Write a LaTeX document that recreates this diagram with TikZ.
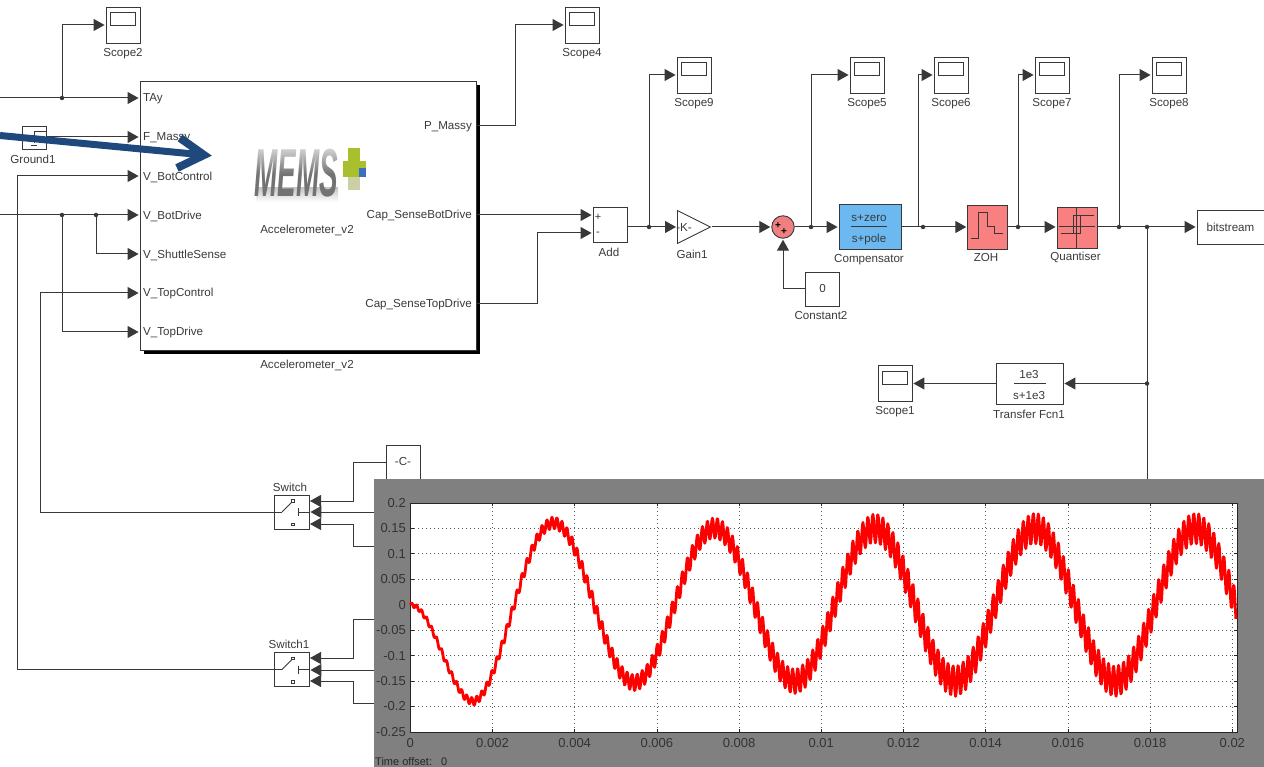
\documentclass[tikz,border=0pt]{standalone}
\usepackage{fontspec}
\setmainfont{Liberation Sans}
\usepackage{tikz}
\usetikzlibrary{calc,shapes.geometric,arrows.meta,shadows,fadings}
\definecolor{wirecol}{HTML}{383838}
\definecolor{textcol}{HTML}{3A3A3A}
\definecolor{panelcol}{HTML}{808080}
\definecolor{redblock}{HTML}{F88080}
\definecolor{blueblock}{HTML}{6CB9F2}
\definecolor{sumcol}{HTML}{F07F7F}
\definecolor{slidearrow}{HTML}{1F497D}
\definecolor{plusgreen}{HTML}{A9BF2E}
\definecolor{pluspale}{HTML}{CBCFA4}
\definecolor{plusblue}{HTML}{3A6FC4}
\tikzset{
  base/.style={font=\fontsize{11.6}{13}\selectfont,text=textcol,inner sep=0pt},
  txt/.style={base,yshift=-1pt},
  caption/.style={txt},
  blockbox/.style={base,draw=wirecol,line width=.9pt,fill=white,rectangle},
  scopebox/.style={blockbox,minimum width=34pt,minimum height=36pt},
  screen/.style={blockbox,minimum width=25pt,minimum height=13pt},
  portleft/.style={txt,anchor=west},
  portright/.style={txt,anchor=east},
  wire/.style={draw=wirecol,line width=1pt},
  arrowwire/.style={wire,-{Triangle[length=11pt,width=12pt]},shorten >=1pt},
  junction/.style={circle,fill=wirecol,inner sep=0pt,minimum size=4.5pt},
  ticklabel/.style={font=\fontsize{13}{15}\selectfont,text=black!80,inner sep=0pt},
  griddots/.style={black!65,line width=.8pt,dash pattern=on 1pt off 3pt},
  tickmark/.style={black!85,line width=.8pt},
}
\begin{document}
\begin{tikzpicture}[x=1pt,y=-1pt,
    declare function={
      sig(\t)=(\t<1.55)?(-0.19*sin(90*\t/1.55)^2):(-(0.15+0.04*exp(-(\t-1.55)/1.5))*cos(360*(\t-1.55)/3.9));
      rip(\t)=(0.004+0.026*min(\t/12,1))*sin(360*frac(\t/0.122));
    }]
    \useasboundingbox (0,0) rectangle (1264,767);
    % scopes
    \foreach \n/\x/\y in {2/123/25, 4/582/25, 9/694/75, 5/867/75, 6/951/75, 7/1052/75, 8/1169/75, 1/895/383.5}
    {
        \node[scopebox] (scope\n) at (\x,\y) {};
        \node[screen] (screen\n) at ($(scope\n.center)+(0,-6)$) {};
        \node[caption] (scopelabel\n) at ($(scope\n.south)+(0,9)$) {Scope\n};
    }
    % accelerometer block
    \node[blockbox,minimum width=336pt,minimum height=269pt,
        general shadow={fill=black,shadow xshift=4pt,shadow yshift=-4pt}] (accel) at (308,215.5) {};
    \foreach \name/\txt/\y in {tay/TAy/98, fmassy/F\_Massy/137, botcontrol/V\_BotControl/176, botdrive/V\_BotDrive/215,
        shuttle/V\_ShuttleSense/254, topcontrol/V\_TopControl/293, topdrive/V\_TopDrive/332}
        \node[portleft] (\name) at (143,\y) {\txt};
    \foreach \name/\txt/\y in {pmassy/P\_Massy/126, capbot/Cap\_SenseBotDrive/215, captop/Cap\_SenseTopDrive/304}
        \node[portright] (\name) at (472,\y) {\txt};
    \node[caption] (accelinner) at (307,229) {Accelerometer\_v2};
    \node[caption] (acceltitle) at (307,364) {Accelerometer\_v2};
    % logo
    \shade[top color=black!22,bottom color=white] (256,188) rectangle (338,202);
    \node[font=\fontsize{68}{68}\selectfont\bfseries\itshape,text=black!55,inner sep=0pt,xscale=.41,transform shape] (logo) at (296,173) {MEMS};
    \fill[white,opacity=.75,path fading=south] (252,146) rectangle (342,174);
    \fill[plusgreen] (348,148) rectangle (360,177);
    \fill[pluspale] (348,177) rectangle (360,190);
    \fill[plusgreen] (343,161) rectangle (366,177);
    \fill[plusblue] (359,168) rectangle (366,177);
    % left side
    \node[blockbox,minimum width=24pt,minimum height=23pt] (ground) at (34,137.5) {};
    \node[caption] (groundlabel) at (33,158) {Ground1};
    \draw[wire] (46,132) -| (34,143);
    \draw[wire] (31,146) -- (37,146);
    \coordinate (tayin) at (0,98);
    \coordinate (drivein) at (0,215);
    \node[junction] (jscope) at (62,98) {};
    \node[junction] (jdrive) at (62,215) {};
    \node[junction] (jshuttle) at (96,215) {};
    \draw[wire] (tayin) -- (jscope.center);
    \draw[arrowwire] (jscope.center) -- (accel.west |- 0,98);
    \draw[arrowwire] (jscope.center) |- (scope2.west);
    \draw[arrowwire] (ground.east |- 0,137) -- (accel.west |- 0,137);
    \draw[wire] (drivein) -- (jdrive.center);
    \draw[wire] (jdrive.center) -- (jshuttle.center);
    \draw[arrowwire] (jshuttle.center) -- (accel.west |- 0,215);
    \draw[arrowwire] (jshuttle.center) |- (accel.west |- 0,254);
    \draw[arrowwire] (jdrive.center) |- (accel.west |- 0,332);
    % switches
    \node[blockbox,minimum width=35pt,minimum height=34pt] (switcha) at (291.5,512) {};
    \node[caption] (switchalabel) at (290,486) {Switch};
    \node[blockbox,minimum width=35pt,minimum height=34pt] (switchb) at (291.5,669.5) {};
    \node[caption] (switchblabel) at (289,643) {Switch1};
    \node[blockbox,minimum width=34pt,minimum height=34pt] (cblock) at (403,462) {-C-};
    \foreach \s in {switcha,switchb}
    {
        \draw[wire] ($(\s.center)+(-9.5,0)$) -- ($(\s.center)+(1.5,-11)$);
        \draw[wire] ($(\s.center)+(-17.5,0)$) -- ($(\s.center)+(-9.5,0)$);
        \draw[wire,fill=white] ($(\s.center)+(.3,-12.5)$) rectangle ($(\s.center)+(2.7,-10)$);
        \draw[wire,fill=white] ($(\s.center)+(.3,11)$) rectangle ($(\s.center)+(2.7,13.5)$);
        \draw[wire] ($(\s.center)+(6.5,-4)$) -- ($(\s.center)+(6.5,4)$);
        \draw[wire] ($(\s.center)+(6.5,0)$) -- ($(\s.center)+(17.5,0)$);
    }
    \coordinate (aone) at (374,512);
    \coordinate (atwo) at (374,546);
    \coordinate (bone) at (374,619);
    \coordinate (btwo) at (374,670);
    \coordinate (bthree) at (374,703);
    \draw[arrowwire] (cblock.west) -| (353,501) -- (309,501);
    \draw[arrowwire] (aone) -- (switcha.east |- aone);
    \draw[arrowwire] (atwo) -| (353,524) -- (309,524);
    \draw[arrowwire] (bone) -| (353,658) -- (309,658);
    \draw[arrowwire] (btwo) -- (switchb.east |- btwo);
    \draw[arrowwire] (bthree) -| (353,681) -- (309,681);
    \draw[arrowwire] (switcha.west) -| (40,293) -- (accel.west |- 0,293);
    \draw[arrowwire] (switchb.west) -| (17,176) -- (accel.west |- 0,176);
    % forward path
    \node[blockbox,minimum width=34pt,minimum height=35pt] (add) at (610,224.5) {};
    \node[txt,font=\fontsize{11}{12}\selectfont] (addplus) at (598,216) {+};
    \node[txt,font=\fontsize{11}{12}\selectfont] (addminus) at (598,233) {-};
    \node[caption] (addlabel) at (609,251) {Add};
    \node[isosceles triangle,isosceles triangle stretches,draw=wirecol,line width=.9pt,fill=white,inner sep=0pt,
        minimum width=33pt,minimum height=33pt,anchor=west] (gain) at (677,227) {};
    \node[txt] (gaintext) at (684,227) {-K-};
    \node[caption] (gainlabel) at (692,253) {Gain1};
    \node[circle,draw=wirecol,line width=.9pt,fill=sumcol,minimum size=22.5pt,inner sep=0pt] (sum) at (783,227) {};
    \node[base,font=\fontsize{10}{11}\selectfont\bfseries,text=black] (sumplusa) at (778,226) {+};
    \node[base,font=\fontsize{10}{11}\selectfont\bfseries,text=black] (sumplusb) at (784,232) {+};
    \node[blockbox,minimum width=34pt,minimum height=34pt] (constant) at (822.5,289) {0};
    \node[caption] (constantlabel) at (821,315) {Constant2};
    \node[blockbox,fill=blueblock,minimum width=62pt,minimum height=45pt] (comp) at (870,226.5) {};
    \node[txt] (compnum) at (869,217.5) {s+zero};
    \node[txt] (compden) at (869,238.5) {s+pole};
    \draw[wire] (851,227) -- (887,227);
    \node[caption] (complabel) at (869,259) {Compensator};
    \node[blockbox,fill=redblock,minimum width=39.5pt,minimum height=44pt] (zoh) at (987.5,227) {};
    \draw[wire] (970.5,239) -- (978,239) -- (978,213) -- (987,213) -- (987,227) -- (994.5,227) -- (994.5,234) -- (1003,234);
    \node[caption] (zohlabel) at (986,257) {ZOH};
    \node[blockbox,fill=redblock,minimum width=40pt,minimum height=41pt] (quant) at (1077,227.5) {};
    \draw[wire] (1059,227) -- (1095,227);
    \draw[wire] (1076.5,207) -- (1076.5,248);
    \draw[wire] (1094,216) -- (1073,216) -- (1073,233.5) -- (1061,233.5);
    \draw[wire] (1094,216) -- (1080,216) -- (1080,233.5) -- (1061,233.5);
    \node[caption] (quantlabel) at (1075.5,256) {Quantiser};
    \node[blockbox,minimum width=67pt,minimum height=34pt] (bitstream) at (1230.5,227) {bitstream};
    \node[blockbox,minimum width=67pt,minimum height=41pt] (tf) at (1029.5,383.5) {};
    \node[txt] (tfnum) at (1029,374) {1e3};
    \node[txt] (tfden) at (1029,395) {s+1e3};
    \draw[wire] (1014,383.5) -- (1045.5,383.5);
    \node[caption] (tflabel) at (1029,413) {Transfer Fcn1};
    \node[junction] (jgain) at (649,227) {};
    \node[junction] (jsum) at (811,227) {};
    \node[junction] (jcomp) at (923,227) {};
    \node[junction] (jzoh) at (1018,227) {};
    \node[junction] (jquant) at (1119,227) {};
    \node[junction] (jout) at (1147,227) {};
    \node[junction] (jtf) at (1147,383.5) {};
    \coordinate (jbranch) at (918,227);
    \coordinate (feedback) at (1147,480);
    \draw[arrowwire] (accel.east |- 0,126) -| (515,25) -- (scope4.west);
    \draw[arrowwire] (accel.east |- 0,215) -- (add.west |- 0,215);
    \draw[arrowwire] (accel.east |- 0,304) -| (537,233) -- (add.west |- 0,233);
    \draw[wire] (add.east |- jgain) -- (jgain.center);
    \draw[arrowwire] (jgain.center) -- (gain.west);
    \draw[arrowwire] (jgain.center) |- (scope9.west);
    \draw[arrowwire] (gain.east) -- (sum.west);
    \draw[arrowwire] (constant.west) -| (sum.south);
    \draw[wire] (sum.east) -- (jsum.center);
    \draw[arrowwire] (jsum.center) -- (comp.west |- jsum);
    \draw[arrowwire] (jsum.center) |- (scope5.west);
    \draw[wire] (comp.east |- jcomp) -- (jcomp.center);
    \draw[arrowwire] (jbranch) |- (scope6.west);
    \draw[arrowwire] (jcomp.center) -- (zoh.west |- jcomp);
    \draw[wire] (zoh.east |- jzoh) -- (jzoh.center);
    \draw[arrowwire] (jzoh.center) -- (quant.west |- jzoh);
    \draw[arrowwire] (jzoh.center) |- (scope7.west);
    \draw[wire] (quant.east |- jquant) -- (jquant.center);
    \draw[arrowwire] (jquant.center) |- (scope8.west);
    \draw[wire] (jquant.center) -- (jout.center);
    \draw[arrowwire] (jout.center) -- (bitstream.west);
    \draw[wire] (jout.center) -- (feedback);
    \draw[arrowwire] (jtf.center) -- (tf.east |- jtf);
    \draw[arrowwire] (tf.west) -- (scope1.east);
    % scope window
    \fill[panelcol] (374,479) rectangle (1264,767);
    \fill[white] (410.3,503) rectangle (1237,732);
    \foreach \i/\lab in {0/0, 1/0.002, 2/0.004, 3/0.006, 4/0.008, 5/0.01, 6/0.012, 7/0.014, 8/0.016, 9/0.018, 10/0.02}
    {
        \draw[griddots] ({410.3+82.2*\i},503) -- ({410.3+82.2*\i},732);
        \draw[tickmark] ({410.3+82.2*\i},503) -- ({410.3+82.2*\i},506);
        \draw[tickmark] ({410.3+82.2*\i},732) -- ({410.3+82.2*\i},729);
        \node[ticklabel] (xtick\i) at ({410.3+82.2*\i},743) {\lab};
    }
    \foreach \i/\lab in {0/0.2, 1/0.15, 2/0.1, 3/0.05, 4/0, 5/-0.05, 6/-0.1, 7/-0.15, 8/-0.2, 9/-0.25}
    {
        \draw[griddots] (410.3,{503+25.44*\i}) -- (1237,{503+25.44*\i});
        \draw[tickmark] (410.3,{503+25.44*\i}) -- (413.5,{503+25.44*\i});
        \draw[tickmark] (1237,{503+25.44*\i}) -- (1233.8,{503+25.44*\i});
        \node[ticklabel,anchor=east] (ytick\i) at (406,{503+25.44*\i}) {\lab};
    }
    \draw[black!85,line width=1pt] (410.3,503) rectangle (1237,732);
    \draw[red,line width=2.8pt,line join=round] plot[domain=0:20.1,samples=1400]
        ({410.3+41.1*\x},{604.8-508.9*(sig(\x)+rip(\x))});
    \node[base,font=\fontsize{11}{13}\selectfont,text=black!85,anchor=west] (offset) at (375,761.5) {Time offset:\ \ \ 0};
    % big arrow
    \coordinate (arrowstart) at (0,135.5);
    \coordinate (arrowtip) at (204,155);
    \coordinate (barbtop) at (180,138);
    \coordinate (barbbot) at (177,168);
    \draw[slidearrow,line width=7pt] (arrowstart) -- (arrowtip);
    \draw[slidearrow,line width=8pt,miter limit=10] (barbtop) -- (arrowtip) -- (barbbot);
\end{tikzpicture}
\end{document}
